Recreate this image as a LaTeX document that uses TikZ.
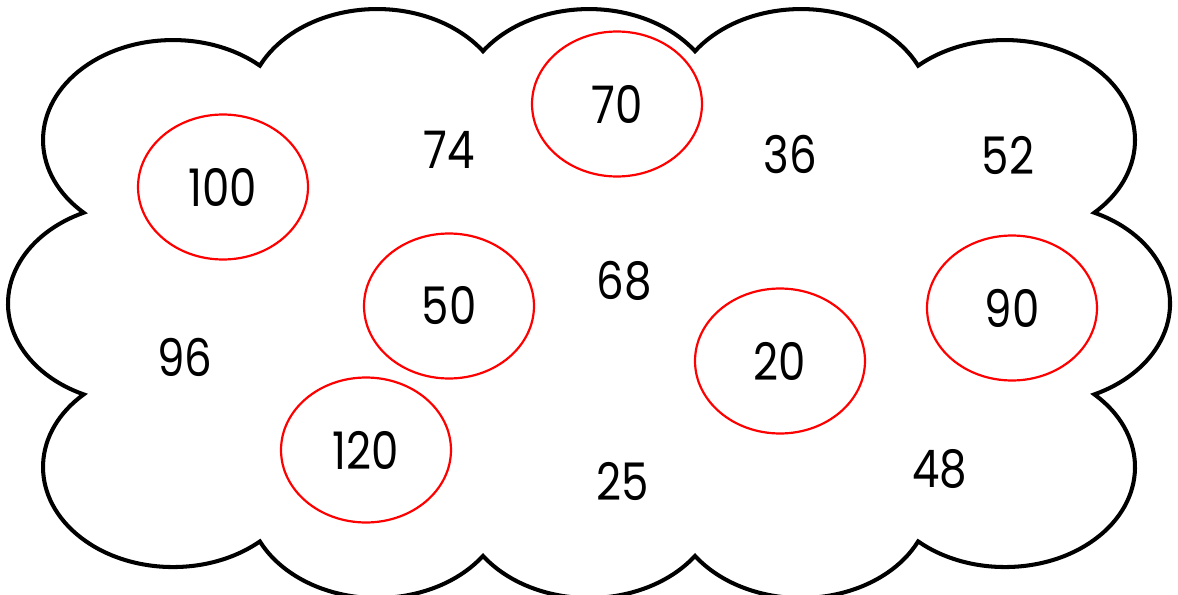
\documentclass[tikz,border=0pt]{standalone}
\usepackage{fontspec}
\setmainfont{Poppins}[FakeStretch=0.84]
\usetikzlibrary{shapes,positioning}

\begin{document}
\begin{tikzpicture}[
    x=0.02cm, y=-0.02cm,
    num/.style={inner sep=0pt, font=\fontsize{29.5}{34}\selectfont},
    ring/.style={num, ellipse, draw=red, line width=1.25pt, minimum width=3.4cm, minimum height=2.9cm},
    lobe/.style={x radius=130, y radius=100},
    cloudline/.style={draw, line width=2.3pt, line join=miter}
]
\useasboundingbox (0,0) rectangle (1178,595);

% Cloud outline, one arc per bump
\draw[cloudline] (83.7,212.7)
    arc[lobe, start angle=133.4, end angle=311.94]
    arc[lobe, start angle=205.72, end angle=324.63]
    arc[lobe, start angle=215.37, end angle=324.63]
    arc[lobe, start angle=215.37, end angle=334.28]
    arc[lobe, start angle=228.06, end angle=406.6]
    arc[lobe, start angle=-65.3, end angle=65.3]
    arc[lobe, start angle=-46.6, end angle=131.94]
    arc[lobe, start angle=25.72, end angle=144.63]
    arc[lobe, start angle=35.37, end angle=144.63]
    arc[lobe, start angle=35.37, end angle=154.28]
    arc[lobe, start angle=48.06, end angle=226.6]
    arc[lobe, start angle=114.7, end angle=245.3] -- cycle;

% Circled numbers
\node[ring] (r100) at (223,187) {100};
\node[ring] (r70) at (617,104) {70};
\node[ring] (r50) at (449,306) {50};
\node[ring] (r90) at (1012,308) {90};
\node[ring] (r20) at (780,361) {20};
\node[ring] (r120) at (366,450) {120};

% Other numbers
\node[num] (n74) at (449,150) {74};
\node[num] (n36) at (790,155) {36};
\node[num] (n52) at (1008,155) {52};
\node[num] (n68) at (624,281) {68};
\node[num] (n96) at (185,357) {96};
\node[num] (n25) at (623,481) {25};
\node[num] (n48) at (940,469) {48};

\end{tikzpicture}
\end{document}
